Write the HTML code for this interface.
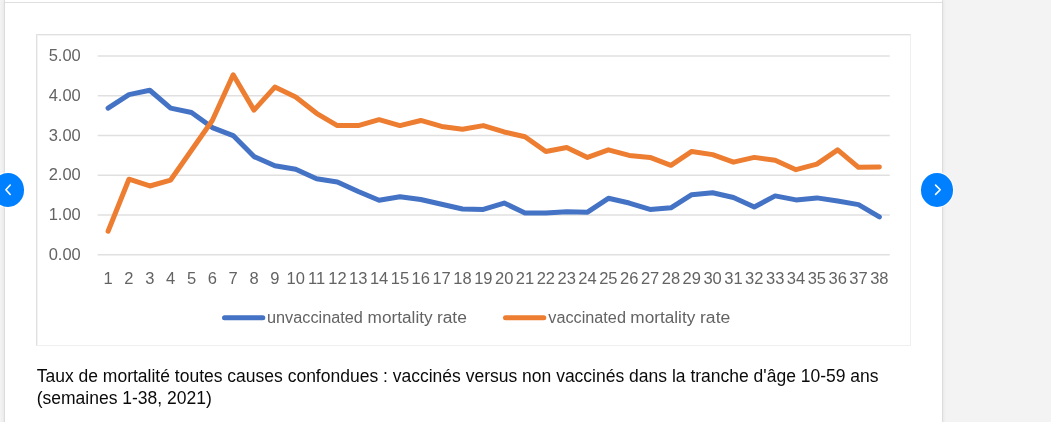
<!DOCTYPE html>
<html><head><meta charset="utf-8">
<style>
html,body{margin:0;padding:0;}
body{width:1051px;height:422px;overflow:hidden;background:#f3f3f3;position:relative;font-family:"Liberation Sans",Arial,sans-serif;}
.card{position:absolute;left:4px;top:0;width:937px;height:440px;background:#fff;border-left:1px solid #dcdcdc;border-right:1px solid #dcdcdc;box-shadow:0 0 4px rgba(0,0,0,0.08);}
.topline{position:absolute;left:5px;top:2px;width:937px;height:1px;background:#dedede;}
.chart{position:absolute;left:0;top:0;}
.cbox{position:absolute;left:36px;top:34px;width:873px;height:310px;background:#fff;border-top:1px solid #e0e0e0;border-left:1px solid #e0e0e0;border-right:1px solid #efefef;border-bottom:1px solid #f0f0f0;box-shadow:inset 1px 1px 0 #f4f4f4;}
.caption{position:absolute;left:36.7px;top:365px;width:880px;font-size:17.5px;line-height:22px;color:#0a0a0a;margin:0;}
.nav{position:absolute;top:173.3px;width:32px;height:33.4px;border-radius:50%;background:#0080ff;box-shadow:0 0 0 1px rgba(255,255,255,0.85);}
.nav svg{position:absolute;left:0;top:0;}
</style></head><body>
<div class="card"></div>
<div class="topline"></div>
<div class="cbox"></div>
<svg class="chart" width="1051" height="422" viewBox="0 0 1051 422">

<g stroke="#e0e0e0" stroke-width="1.5"><line x1="97.7" x2="889.8" y1="254.70" y2="254.70"/><line x1="97.7" x2="889.8" y1="214.98" y2="214.98"/><line x1="97.7" x2="889.8" y1="175.26" y2="175.26"/><line x1="97.7" x2="889.8" y1="135.54" y2="135.54"/><line x1="97.7" x2="889.8" y1="95.82" y2="95.82"/><line x1="97.7" x2="889.8" y1="56.10" y2="56.10"/></g>
<g font-family="Liberation Sans, Arial, sans-serif" font-size="16.5" fill="#636363" text-anchor="end"><text x="80.8" y="259.80">0.00</text><text x="80.8" y="220.08">1.00</text><text x="80.8" y="180.36">2.00</text><text x="80.8" y="140.64">3.00</text><text x="80.8" y="100.92">4.00</text><text x="80.8" y="61.20">5.00</text></g>
<g font-family="Liberation Sans, Arial, sans-serif" font-size="16.5" fill="#636363" text-anchor="middle"><text x="108.10" y="284">1</text><text x="128.94" y="284">2</text><text x="149.79" y="284">3</text><text x="170.63" y="284">4</text><text x="191.48" y="284">5</text><text x="212.32" y="284">6</text><text x="233.17" y="284">7</text><text x="254.01" y="284">8</text><text x="274.86" y="284">9</text><text x="295.70" y="284">10</text><text x="316.55" y="284">11</text><text x="337.39" y="284">12</text><text x="358.24" y="284">13</text><text x="379.09" y="284">14</text><text x="399.93" y="284">15</text><text x="420.77" y="284">16</text><text x="441.62" y="284">17</text><text x="462.47" y="284">18</text><text x="483.31" y="284">19</text><text x="504.15" y="284">20</text><text x="525.00" y="284">21</text><text x="545.85" y="284">22</text><text x="566.69" y="284">23</text><text x="587.53" y="284">24</text><text x="608.38" y="284">25</text><text x="629.23" y="284">26</text><text x="650.07" y="284">27</text><text x="670.91" y="284">28</text><text x="691.76" y="284">29</text><text x="712.61" y="284">30</text><text x="733.45" y="284">31</text><text x="754.29" y="284">32</text><text x="775.14" y="284">33</text><text x="795.99" y="284">34</text><text x="816.83" y="284">35</text><text x="837.67" y="284">36</text><text x="858.52" y="284">37</text><text x="879.37" y="284">38</text></g>
<g fill="none" stroke-width="5.0" stroke-linejoin="round" stroke-linecap="round">
<polyline stroke="#4472c4" points="108.10,108.13 128.94,94.63 149.79,90.26 170.63,108.13 191.48,112.50 212.32,127.60 233.17,135.54 254.01,156.59 274.86,165.73 295.70,169.30 316.55,178.83 337.39,182.01 358.24,191.55 379.09,200.28 399.93,196.71 420.77,199.49 441.62,204.26 462.47,209.02 483.31,209.42 504.15,203.06 525.00,212.99 545.85,212.99 566.69,211.80 587.53,212.20 608.38,198.30 629.23,203.06 650.07,209.42 670.91,207.83 691.76,194.72 712.61,192.74 733.45,197.50 754.29,207.04 775.14,195.91 795.99,199.89 816.83,197.90 837.67,201.08 858.52,204.65 879.37,216.97"/>
<polyline stroke="#ed7d31" points="108.10,231.27 128.94,179.23 149.79,185.98 170.63,180.03 191.48,150.24 212.32,120.45 233.17,74.77 254.01,110.12 274.86,87.08 295.70,97.01 316.55,113.30 337.39,125.61 358.24,125.61 379.09,119.65 399.93,125.61 420.77,120.45 441.62,126.40 462.47,129.18 483.31,125.61 504.15,131.97 525.00,136.73 545.85,151.43 566.69,147.46 587.53,157.39 608.38,149.84 629.23,155.40 650.07,157.39 670.91,165.33 691.76,151.43 712.61,154.61 733.45,162.15 754.29,157.39 775.14,160.17 795.99,169.70 816.83,164.14 837.67,149.84 858.52,167.32 879.37,166.92"/>
<line stroke="#4472c4" x1="224.5" x2="262.8" y1="317.7" y2="317.7"/>
<line stroke="#ed7d31" x1="505.5" x2="543.8" y1="317.7" y2="317.7"/>
</g>
<g font-family="Liberation Sans, Arial, sans-serif" font-size="16.82" fill="#636363">
<text x="267.0" y="322.8" textLength="95.9" lengthAdjust="spacingAndGlyphs">unvaccinated</text><text x="367.6" y="322.8" textLength="65.0" lengthAdjust="spacingAndGlyphs">mortality</text><text x="436.9" y="322.8" textLength="30.0" lengthAdjust="spacingAndGlyphs">rate</text>
<text x="548.3" y="322.8" textLength="77.65" lengthAdjust="spacingAndGlyphs">vaccinated</text><text x="630.3" y="322.8" textLength="65.0" lengthAdjust="spacingAndGlyphs">mortality</text><text x="700.0" y="322.8" textLength="30.3" lengthAdjust="spacingAndGlyphs">rate</text>
</g>
</svg>
<p class="caption">Taux de mortalité toutes causes confondues : vaccinés versus non vaccinés dans la tranche d'âge 10-59 ans (semaines 1-38, 2021)</p>
<div class="nav" style="left:-8.1px;"><svg width="32" height="34" viewBox="0 0 32 34"><polyline points="18.2,12 13.9,16.7 18.2,21.5" fill="none" stroke="#fff" stroke-width="1.6" stroke-linecap="round" stroke-linejoin="round"/></svg></div>
<div class="nav" style="left:921.1px;"><svg width="32" height="34" viewBox="0 0 32 34"><polyline points="14.6,12.1 19.2,16.8 14.6,21.4" fill="none" stroke="#fff" stroke-width="1.6" stroke-linecap="round" stroke-linejoin="round"/></svg></div>
</body></html>
